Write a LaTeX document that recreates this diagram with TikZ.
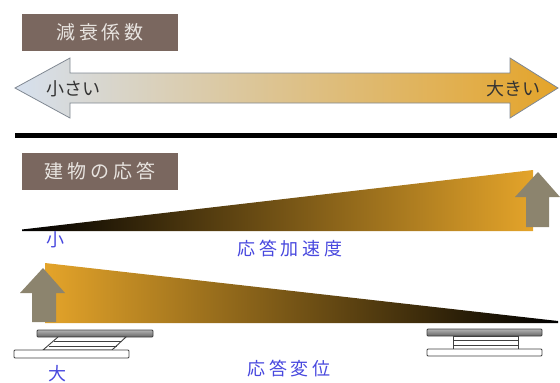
\documentclass[tikz,border=0pt]{standalone}
\usepackage{fontspec}
\newfontfamily\jp{Noto Sans CJK JP}
\newfontfamily\jpwide[LetterSpace=20]{Noto Sans CJK JP}
\definecolor{tagbrown}{RGB}{122,103,95}
\definecolor{tagtext}{RGB}{232,228,224}
\definecolor{lblblue}{RGB}{72,72,222}
\definecolor{paleblue}{RGB}{214,224,238}
\definecolor{midgrey}{RGB}{222,222,222}
\definecolor{amber}{RGB}{228,164,42}
\definecolor{umber}{RGB}{128,82,16}
\definecolor{arrowgrey}{RGB}{140,132,110}
\definecolor{rimgrey}{RGB}{128,136,146}
\tikzset{
  tag/.style={fill=tagbrown, text=tagtext, minimum width=156pt, minimum height=37pt,
    inner sep=0pt, font=\jpwide\fontsize{19}{19}\selectfont},
  bluelabel/.style={text=lblblue, inner sep=0pt, font=\jpwide\fontsize{18}{18}\selectfont},
  endlabel/.style={text=black!80, inner sep=0pt, font=\jp\fontsize{18}{18}\selectfont},
  uparrow/.style={fill=arrowgrey},
  plate/.style={draw=black!75, line width=0.9pt, rounded corners=1pt},
  darkplate/.style={plate, top color=black!30, bottom color=black!60},
  lightplate/.style={plate, fill=white},
  rubber/.style={draw=black!75, line width=0.9pt, fill=white},
}
\begin{document}
\begin{tikzpicture}[x=1pt, y=-1pt]
\useasboundingbox (0,0) rectangle (560,383);

% --- damping coefficient scale ---
\node[tag] (damptag) at (100,32) {減衰係数};
\shade[left color=paleblue, middle color=midgrey, right color=amber]
  (15,88) -- (70,58) -- (70,73) -- (510,73) -- (510,58) -- (558,88)
  -- (510,118) -- (510,103) -- (70,103) -- (70,118) -- cycle;
\draw[rimgrey, line width=0.8pt]
  (15,88) -- (70,58) -- (70,73) -- (510,73) -- (510,58) -- (558,88)
  -- (510,118) -- (510,103) -- (70,103) -- (70,118) -- cycle;
\node[endlabel] (small) at (73,89) {小さい};
\node[endlabel] (large) at (513,89) {大きい};

% divider
\draw[line width=4.5pt] (15,135.5) -- (557,135.5);

% --- building response ---
\node[tag] (resptag) at (100,171.5) {建物の応答};

% response acceleration wedge (grows to the right)
\shade[left color=black, middle color=umber, right color=amber]
  (22,229.5) -- (533,170) -- (533,231) -- (22,231) -- cycle;
\fill[uparrow] (538,172) -- (560,197) -- (549,197) -- (549,227)
  -- (526,227) -- (526,197) -- (515,197) -- cycle;
\node[bluelabel] (accsmall) at (55,240) {小};
\node[bluelabel] (acc) at (290,249) {応答加速度};

% response displacement wedge (shrinks to the right)
\shade[left color=amber, middle color=umber, right color=black]
  (45,263) -- (558,321) -- (558,323) -- (45,323) -- cycle;
\fill[uparrow] (43,268) -- (65,293) -- (56,293) -- (56,322)
  -- (32,322) -- (32,293) -- (20,293) -- cycle;

% deformed isolator (large displacement)
\draw[darkplate] (37,330) rectangle (153,337);
\draw[rubber] (58,337) -- (126,337) -- (112,350) -- (43,350) -- cycle;
\draw[black!75, line width=0.8pt] (53.5,341.5) -- (121,341.5);
\draw[black!75, line width=0.8pt] (48.5,346) -- (116.5,346);
\draw[lightplate] (14,350) rectangle (129,358);
\node[bluelabel] (dispbig) at (57,374) {大};
\node[bluelabel] (disp) at (289,369) {応答変位};

% upright isolator (small displacement)
\draw[darkplate] (427,329) rectangle (542,336);
\draw[rubber] (453,336) rectangle (518,349);
\draw[black!75, line width=0.8pt] (453,340.5) -- (518,340.5);
\draw[black!75, line width=0.8pt] (453,345) -- (518,345);
\draw[lightplate] (427,349) rectangle (542,356);
\end{tikzpicture}
\end{document}
